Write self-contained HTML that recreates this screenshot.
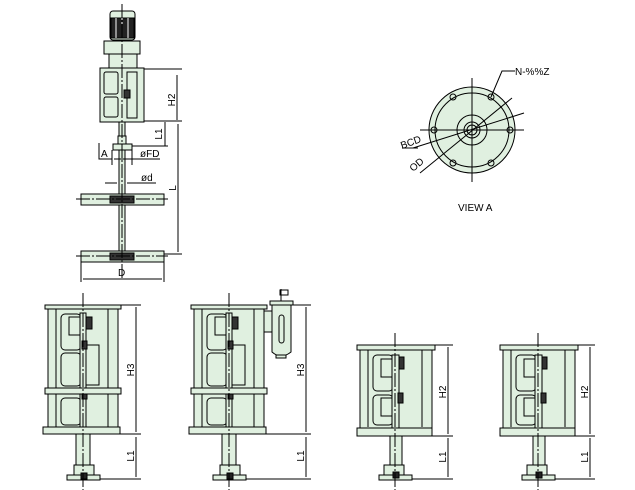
<!DOCTYPE html>
<html><head><meta charset="utf-8"><style>
html,body{margin:0;padding:0;background:#fff;}
svg{display:block;}
text{font-family:"Liberation Sans",sans-serif;font-size:10px;fill:#000;}
</style></head><body>
<svg width="635" height="490" viewBox="0 0 635 490" xmlns="http://www.w3.org/2000/svg">
<defs>
<g id="tall" stroke="#000" stroke-width="1" fill="#e0f0e0">
  <rect x="-35" y="4" width="70" height="119"/>
  <line x1="-27" y1="4" x2="-27" y2="122"/><line x1="25" y1="4" x2="25" y2="122"/>
  <rect x="-22" y="9" width="20" height="36" rx="4" fill="none"/>
  <rect x="-22" y="48" width="20" height="33" rx="4" fill="none"/>
  <rect x="-22" y="93" width="20" height="27" rx="4" fill="none"/>
  <rect x="2" y="40" width="14" height="40" fill="none"/>
  <rect x="-14" y="12" width="12" height="18" fill="none"/>
  <rect x="-3" y="8" width="6" height="115" fill="#e0f0e0"/>
  <rect x="3" y="12" width="6" height="12" fill="#333"/>
  <rect x="-1" y="36" width="5" height="8" fill="#333"/>
  <rect x="-1" y="86" width="5" height="8" fill="#333"/>
  <rect x="-38" y="0" width="76" height="4"/>
  <rect x="-38" y="83" width="76" height="6"/>
  <rect x="-40" y="122" width="77" height="7"/>
  <rect x="-7" y="129" width="14" height="34"/>
  <rect x="-9" y="160" width="20" height="12"/>
  <rect x="-16" y="170" width="33" height="5"/>
  <rect x="-2" y="168" width="6" height="6" fill="#222"/>
  <line x1="0" y1="-12" x2="0" y2="195" stroke-dasharray="14,2,2,2" fill="none"/>
</g>
<g id="short" stroke="#000" stroke-width="1" fill="#e0f0e0">
  <rect x="-35" y="5" width="72" height="78"/>
  <line x1="-27" y1="5" x2="-27" y2="82"/><line x1="27" y1="5" x2="27" y2="82"/>
  <rect x="-22" y="10" width="20" height="36" rx="4" fill="none"/>
  <rect x="-22" y="50" width="20" height="30" rx="4" fill="none"/>
  <rect x="-14" y="14" width="12" height="18" fill="none"/>
  <rect x="-14" y="53" width="12" height="18" fill="none"/>
  <rect x="-3" y="10" width="7" height="81" fill="#e0f0e0"/>
  <rect x="4" y="12" width="5" height="12" fill="#333"/>
  <rect x="3" y="48" width="5" height="10" fill="#333"/>
  <rect x="-38" y="0" width="78" height="5"/>
  <rect x="-38" y="83" width="75" height="8"/>
  <rect x="-5" y="91" width="12" height="29"/>
  <rect x="-11" y="120" width="20" height="12"/>
  <rect x="-16" y="130" width="33" height="5"/>
  <rect x="-2" y="127" width="6" height="6" fill="#222"/>
  <line x1="0" y1="-12" x2="0" y2="150" stroke-dasharray="14,2,2,2" fill="none"/>
</g>
</defs>

<!-- Top assembly -->
<g stroke="#000" stroke-width="1" fill="#e0f0e0">
  <rect x="110" y="11" width="25" height="29" rx="3"/>
  <rect x="111" y="18" width="23" height="20" fill="#222"/>
  <line x1="116" y1="18" x2="116" y2="38" stroke="#fff"/><line x1="122" y1="18" x2="122" y2="38" stroke="#fff"/><line x1="128" y1="18" x2="128" y2="38" stroke="#fff"/>
  <rect x="104" y="41" width="36" height="13"/>
  <rect x="109" y="54" width="28" height="14"/>
  <rect x="100" y="68" width="44" height="54"/>
  <rect x="104" y="72" width="14" height="22" rx="2" fill="none"/>
  <rect x="104" y="97" width="14" height="20" rx="2" fill="none"/>
  <rect x="127" y="72" width="10" height="46" fill="none"/>
  <rect x="124" y="90" width="6" height="8" fill="#333"/>
  <rect x="119" y="122" width="6" height="136"/>
  <rect x="118" y="136" width="8" height="8"/>
  <rect x="113" y="144" width="19" height="6"/>
  <rect x="81" y="194" width="83" height="11"/>
  <rect x="110" y="196" width="24" height="7" fill="#333"/>
  <rect x="81" y="251" width="83" height="11"/>
  <rect x="110" y="253" width="24" height="7" fill="#333"/>
</g>
<g stroke="#000" stroke-width="1" fill="none">
  <line x1="122" y1="4" x2="122" y2="278" stroke-dasharray="14,2,2,2"/>
  <line x1="76" y1="199" x2="168" y2="199" stroke-dasharray="14,2,2,2"/>
  <line x1="76" y1="256" x2="168" y2="256" stroke-dasharray="14,2,2,2"/>
  <!-- H2 -->
  <line x1="144" y1="69" x2="182" y2="69"/><line x1="144" y1="121" x2="182" y2="121"/>
  <line x1="177" y1="75" x2="177" y2="120"/>
  <!-- L1 -->
  <line x1="165" y1="122" x2="165" y2="146"/><line x1="132" y1="146" x2="168" y2="146"/>
  <!-- L -->
  <line x1="178" y1="124" x2="178" y2="252"/><line x1="164" y1="254" x2="182" y2="254"/>
  <!-- A -->
  <polyline points="99,143 99,159 112,159"/>
  <line x1="112" y1="150" x2="112" y2="165"/><line x1="132" y1="150" x2="132" y2="165"/>
  <line x1="114" y1="159" x2="160" y2="159"/>
  <!-- d -->
  <line x1="105" y1="183" x2="117" y2="183"/><line x1="127" y1="183" x2="156" y2="183"/>
  <!-- D -->
  <line x1="81" y1="262" x2="81" y2="282"/><line x1="164" y1="262" x2="164" y2="282"/>
  <line x1="83" y1="279" x2="162" y2="279"/>
</g>
<text x="175" y="100" transform="rotate(-90 175 100)" text-anchor="middle">H2</text>
<text x="162" y="134" transform="rotate(-90 162 134)" text-anchor="middle">L1</text>
<text x="176" y="188" transform="rotate(-90 176 188)" text-anchor="middle">L</text>
<text x="101" y="157">A</text>
<text x="140" y="157">øFD</text>
<text x="141" y="181">ød</text>
<text x="118" y="276">D</text>

<!-- View A -->
<g stroke="#000" stroke-width="1">
  <circle cx="472" cy="130" r="43" fill="#e0f0e0"/>
  <circle cx="472" cy="130" r="37" fill="none"/>
  <circle cx="472" cy="130" r="15" fill="none"/>
  <circle cx="472" cy="130" r="8" fill="none"/>
  <circle cx="472" cy="130" r="5" fill="none"/>
  <g fill="none">
    <circle cx="434" cy="130" r="3"/><circle cx="510" cy="130" r="3"/>
    <circle cx="453" cy="97" r="3"/><circle cx="491" cy="97" r="3"/>
    <circle cx="453" cy="163" r="3"/><circle cx="491" cy="163" r="3"/>
  </g>
  <line x1="420" y1="130" x2="524" y2="130"/>
  <line x1="472" y1="78" x2="472" y2="182"/>
  <polyline points="491,97 502,71 515,71" fill="none"/>
  <line x1="413" y1="148" x2="524" y2="113" />
  <line x1="420" y1="173" x2="512" y2="98"/>
  <line x1="402" y1="148" x2="418" y2="148"/>
</g>
<text x="515" y="75">N-%%Z</text>
<text x="402" y="149" transform="rotate(-20 402 149)">BCD</text>
<text x="413" y="172" transform="rotate(-40 413 172)">OD</text>
<text x="458" y="211">VIEW  A</text>

<!-- Bottom units -->
<use href="#tall" x="83" y="305"/>
<use href="#tall" x="229" y="305"/>
<use href="#short" x="395" y="345"/>
<use href="#short" x="538" y="345"/>

<!-- filter on unit 2 -->
<g stroke="#000" stroke-width="1" fill="#e0f0e0">
  <rect x="264" y="311" width="8" height="21"/>
  <path d="M272,304 H291 V352 Q281,360 272,352 Z"/>
  <rect x="270" y="301" width="23" height="4"/>
  <rect x="279" y="315" width="5" height="28" rx="2.5" fill="none"/>
  <line x1="281" y1="289" x2="281" y2="301"/><rect x="280" y="290" width="8" height="5" fill="none"/>
  <rect x="276" y="355" width="10" height="3"/>
</g>

<!-- dims bottom -->
<g stroke="#000" stroke-width="1" fill="none">
  <line x1="121" y1="305" x2="141" y2="305"/><line x1="117" y1="434" x2="141" y2="434"/>
  <line x1="136" y1="307" x2="136" y2="432"/><line x1="136" y1="437" x2="136" y2="477"/>
  <line x1="100" y1="479" x2="141" y2="479"/>
  <line x1="291" y1="305" x2="311" y2="305"/><line x1="265" y1="434" x2="311" y2="434"/>
  <line x1="306" y1="307" x2="306" y2="432"/><line x1="306" y1="437" x2="306" y2="477"/>
  <line x1="246" y1="479" x2="311" y2="479"/>
  <line x1="435" y1="345" x2="453" y2="345"/><line x1="432" y1="436" x2="453" y2="436"/>
  <line x1="448" y1="347" x2="448" y2="434"/><line x1="448" y1="438" x2="448" y2="477"/>
  <line x1="412" y1="479" x2="453" y2="479"/>
  <line x1="578" y1="345" x2="595" y2="345"/><line x1="575" y1="436" x2="595" y2="436"/>
  <line x1="590" y1="347" x2="590" y2="434"/><line x1="590" y1="438" x2="590" y2="477"/>
  <line x1="555" y1="479" x2="595" y2="479"/>
</g>
<text x="134" y="370" transform="rotate(-90 134 370)" text-anchor="middle">H3</text>
<text x="134" y="456" transform="rotate(-90 134 456)" text-anchor="middle">L1</text>
<text x="304" y="370" transform="rotate(-90 304 370)" text-anchor="middle">H3</text>
<text x="304" y="456" transform="rotate(-90 304 456)" text-anchor="middle">L1</text>
<text x="446" y="392" transform="rotate(-90 446 392)" text-anchor="middle">H2</text>
<text x="446" y="457" transform="rotate(-90 446 457)" text-anchor="middle">L1</text>
<text x="588" y="392" transform="rotate(-90 588 392)" text-anchor="middle">H2</text>
<text x="588" y="457" transform="rotate(-90 588 457)" text-anchor="middle">L1</text>
</svg>
</body></html>
